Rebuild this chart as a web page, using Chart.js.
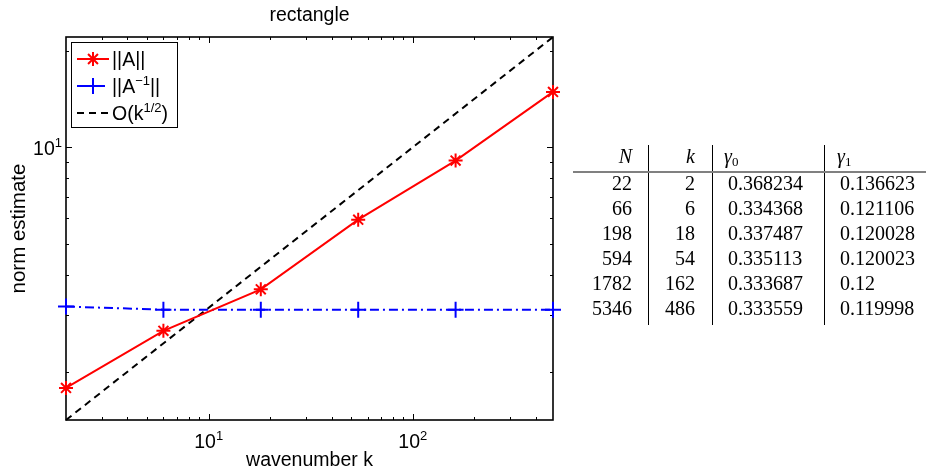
<!DOCTYPE html>
<html>
<head>
<meta charset="utf-8">
<script src="https://cdn.jsdelivr.net/npm/chart.js@4.4.0/dist/chart.umd.min.js"></script>
<style>
  html, body { margin: 0; padding: 0; background: #fff; }
  #wrap { position: relative; width: 926px; height: 473px; overflow: hidden; }
  #chart { position: absolute; left: 0; top: 0; }
  #tbl { position: absolute; left: 0; top: 0; width: 926px; height: 473px;
         font-family: "Liberation Serif", "Times New Roman", serif; font-size: 20px; color: #000; }
  #tbl .cell { position: absolute; line-height: 25px; height: 25px; white-space: nowrap; }
  #tbl .r { text-align: right; }
  #tbl .vline { position: absolute; width: 1px; background: #000; }
  #tbl .hline { position: absolute; height: 2px; background: #808080; }
  #tbl sub { font-size: 13px; vertical-align: -3px; line-height: 0; }
</style>
</head>
<body>
<div id="wrap">
  <canvas id="chart" width="926" height="473"></canvas>
  <div id="tbl"></div>
</div>
<script>
// plot data
const kValues = [2, 6, 18, 54, 162, 486];
const normA = [1.78, 2.68, 3.61, 5.95, 9.09, 14.87];
const normAinv = [3.19, 3.12, 3.12, 3.12, 3.12, 3.12];
const refK = [2, 486];
const refVals = [1.414, 22.05];

// axis ticks
const xMajorTicks = [10, 100];
const xTickExp = ['1', '2'];
const xMinorTicks = [3, 4, 5, 6, 7, 8, 9, 20, 30, 40, 50, 60, 70, 80, 90, 200, 300, 400];
const yMajorTicks = [10];
const yTickExp = ['1'];
const yMinorTicks = [2, 3, 4, 5, 6, 7, 8, 9, 20];

// table
const tableN = [22, 66, 198, 594, 1782, 5346];
const tableK = [2, 6, 18, 54, 162, 486];
const gamma0 = ['0.368234', '0.334368', '0.337487', '0.335113', '0.333687', '0.333559'];
const gamma1 = ['0.136623', '0.121106', '0.120028', '0.120023', '0.12', '0.119998'];

const SANS = '"Liberation Sans", Arial, Helvetica, sans-serif';
const baseFont = '19.5px ' + SANS;
const supFont = '13px ' + SANS;

// build the table next to the plot
(function () {
  const box = document.getElementById('tbl');
  let html = '';
  const cell = (txt, left, width, top, right) =>
    '<div class="cell' + (right ? ' r' : '') + '" style="left:' + left + 'px;width:' + width +
    'px;top:' + top + 'px">' + txt + '</div>';
  const headTop = 144, rowTop = 170.75, rowStep = 25;
  html += cell('<i>N</i>', 573, 59, headTop, true);
  html += cell('<i>k</i>', 650, 45, headTop, true);
  html += cell('<i>γ</i><sub>0</sub>', 724, 90, headTop, false);
  html += cell('<i>γ</i><sub>1</sub>', 837, 85, headTop, false);
  for (let i = 0; i < tableN.length; i++) {
    const t = rowTop + rowStep * i;
    html += cell(tableN[i], 573, 59, t, true);
    html += cell(tableK[i], 650, 45, t, true);
    html += cell(gamma0[i], 728, 90, t, false);
    html += cell(gamma1[i], 840, 85, t, false);
  }
  [648, 712, 824].forEach(x => {
    html += '<div class="vline" style="left:' + x + 'px;top:145px;height:180px"></div>';
  });
  html += '<div class="hline" style="left:573px;top:171px;width:353px"></div>';
  box.innerHTML = html;
})();

// draw text made of normal and superscript pieces
function pieceWidth(ctx, parts) {
  let w = 0;
  parts.forEach(p => {
    ctx.font = p[1] ? supFont : baseFont;
    w += ctx.measureText(p[0]).width;
  });
  return w;
}
function drawParts(ctx, parts, x, y, align) {
  const w = pieceWidth(ctx, parts);
  let cx = align === 'center' ? x - w / 2 : align === 'right' ? x - w : x;
  ctx.textAlign = 'left';
  ctx.textBaseline = 'alphabetic';
  parts.forEach(p => {
    ctx.font = p[1] ? supFont : baseFont;
    ctx.fillText(p[0], cx, p[1] ? y - 8 : y);
    cx += ctx.measureText(p[0]).width;
  });
}

const axesFrame = {
  id: 'axesFrame',
  beforeDatasetsDraw(chart) {
    const { ctx, chartArea: a, scales: { x, y } } = chart;
    ctx.save();
    ctx.strokeStyle = '#000';
    ctx.lineWidth = 1;
    const tick = (v, len, isX) => {
      ctx.beginPath();
      if (isX) {
        const px = Math.round(x.getPixelForValue(v)) + 0.5;
        ctx.moveTo(px, a.bottom); ctx.lineTo(px, a.bottom - len);
        ctx.moveTo(px, a.top); ctx.lineTo(px, a.top + len);
      } else {
        const py = Math.round(y.getPixelForValue(v)) + 0.5;
        ctx.moveTo(a.left, py); ctx.lineTo(a.left + len, py);
        ctx.moveTo(a.right, py); ctx.lineTo(a.right - len, py);
      }
      ctx.stroke();
    };
    xMajorTicks.forEach(v => tick(v, 6, true));
    xMinorTicks.forEach(v => tick(v, 3, true));
    yMajorTicks.forEach(v => tick(v, 6, false));
    yMinorTicks.forEach(v => tick(v, 3, false));
    ctx.lineWidth = 1.6;
    ctx.strokeRect(a.left, a.top, a.right - a.left, a.bottom - a.top);
    ctx.restore();
  },
  afterDraw(chart) {
    const { ctx, chartArea: a, scales: { x, y } } = chart;
    ctx.save();
    ctx.fillStyle = '#000';
    // tick labels
    xMajorTicks.forEach((v, i) => drawParts(ctx, [['10', 0], [xTickExp[i], 1]], x.getPixelForValue(v), 448, 'center'));
    yMajorTicks.forEach((v, i) => drawParts(ctx, [['10', 0], [yTickExp[i], 1]], a.left - 4, y.getPixelForValue(v) + 8, 'right'));
    // titles
    const cx = (a.left + a.right) / 2;
    drawParts(ctx, [['rectangle', 0]], cx, 21, 'center');
    drawParts(ctx, [['wavenumber k', 0]], cx, 466, 'center');
    ctx.save();
    ctx.translate(25, (a.top + a.bottom) / 2);
    ctx.rotate(-Math.PI / 2);
    ctx.font = '20.5px ' + SANS;
    ctx.textAlign = 'center';
    ctx.textBaseline = 'alphabetic';
    ctx.fillText('norm estimate', 0, 0);
    ctx.restore();

    // legend
    const lx = 71, ly = 42, lw = 106, lh = 85;
    ctx.fillStyle = '#fff';
    ctx.fillRect(lx, ly, lw, lh);
    ctx.strokeStyle = '#000';
    ctx.lineWidth = 1;
    ctx.strokeRect(lx + 0.5, ly + 0.5, lw, lh);
    const items = [
      { ds: chart.data.datasets[0], cy: 59, parts: [['||A||', 0]] },
      { ds: chart.data.datasets[1], cy: 86, parts: [['||A', 0], ['\u22121', 1], ['||', 0]] },
      { ds: chart.data.datasets[2], cy: 113, parts: [['O(k', 0], ['1/2', 1], [')', 0]] }
    ];
    items.forEach(it => {
      const ds = it.ds;
      ctx.strokeStyle = ds.borderColor;
      ctx.lineWidth = ds.borderWidth;
      ctx.setLineDash(ds.borderDash || []);
      ctx.beginPath();
      ctx.moveTo(77, it.cy); ctx.lineTo(109, it.cy);
      ctx.stroke();
      ctx.setLineDash([]);
      if (ds.pointRadius > 0) {
        Chart.helpers.drawPoint(ctx, {
          pointStyle: ds.pointStyle, radius: ds.pointRadius, rotation: 0, borderWidth: ds.borderWidth
        }, 93, it.cy);
      }
      ctx.fillStyle = '#000';
      drawParts(ctx, it.parts, 112, it.cy + 7, 'left');
    });
    ctx.restore();
  }
};

const toPoints = (xs, ys) => xs.map((v, i) => ({ x: v, y: ys[i] }));

new Chart(document.getElementById('chart'), {
  type: 'line',
  data: {
    datasets: [
      {
        label: '||A||',
        data: toPoints(kValues, normA),
        borderColor: '#ff0000',
        backgroundColor: '#ff0000',
        borderWidth: 2,
        pointStyle: 'star',
        pointRadius: 7,
        pointBorderWidth: 2,
        clip: false
      },
      {
        label: '||A^-1||',
        data: toPoints(kValues, normAinv),
        borderColor: '#0000ff',
        backgroundColor: '#0000ff',
        borderWidth: 2,
        borderDash: [9, 4, 2, 4],
        pointStyle: 'cross',
        pointRadius: 8,
        pointBorderWidth: 2,
        clip: false
      },
      {
        label: 'O(k^1/2)',
        data: toPoints(refK, refVals),
        borderColor: '#000000',
        borderWidth: 2,
        borderDash: [7, 5],
        pointRadius: 0,
        clip: false
      }
    ]
  },
  options: {
    responsive: false,
    animation: false,
    layout: { padding: { left: 66, top: 37, right: 373, bottom: 53 } },
    scales: {
      x: { type: 'logarithmic', min: 2, max: 486, display: false },
      y: { type: 'logarithmic', min: 1.414, max: 22.05, display: false }
    },
    elements: { line: { tension: 0 } },
    plugins: { legend: { display: false }, tooltip: { enabled: false } }
  },
  plugins: [axesFrame]
});
</script>
</body>
</html>
